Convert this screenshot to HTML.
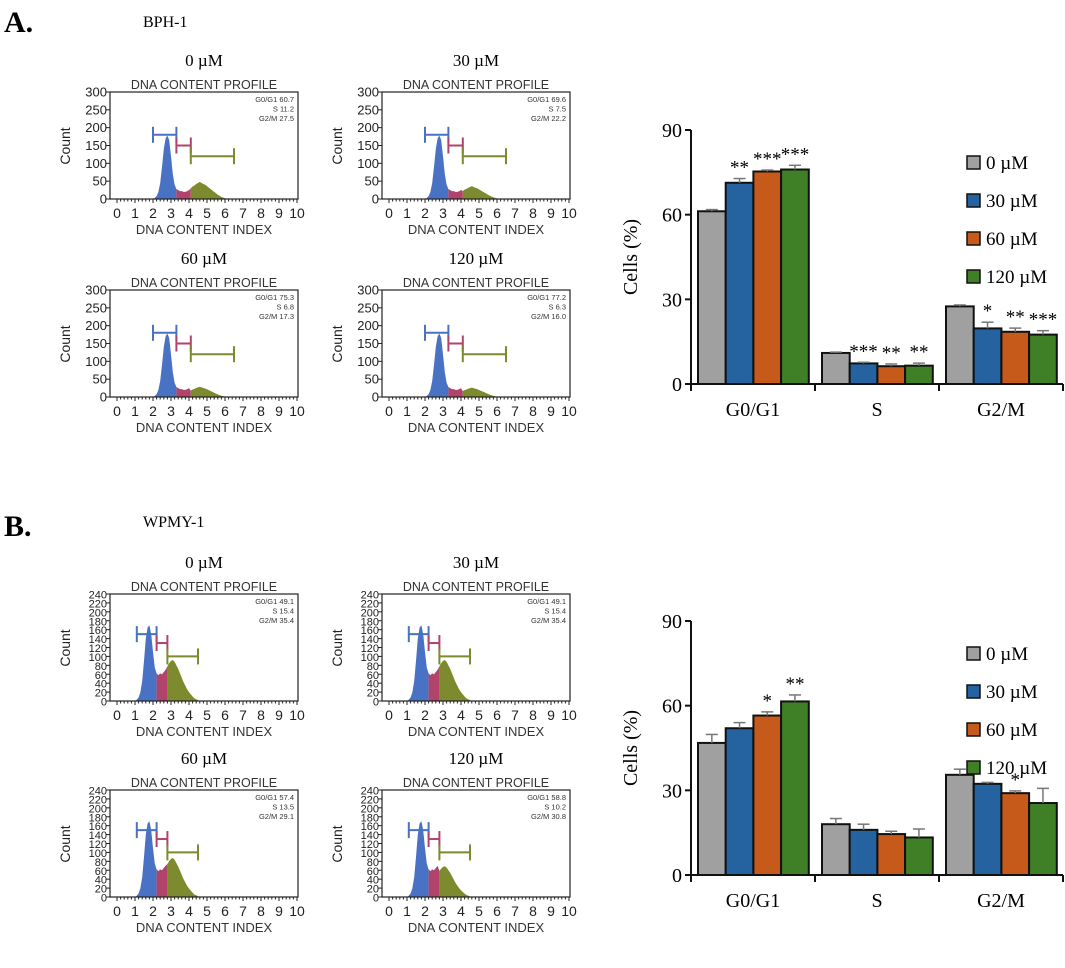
<!DOCTYPE html>
<html><head><meta charset="utf-8"><style>
body{margin:0;background:#fff;}
svg{display:block;}
.t{font-family:"Liberation Serif",serif;}
.s{font-family:"Liberation Sans",sans-serif;}
</style></head><body>
<svg id="fig" width="1065" height="968" xmlns="http://www.w3.org/2000/svg">
<text class="t" x="4" y="32" font-size="30" font-weight="bold">A.</text>
<text class="t" x="143" y="27" font-size="16">BPH-1</text>
<text class="t" x="4" y="536" font-size="30" font-weight="bold">B.</text>
<text class="t" x="143" y="527" font-size="16">WPMY-1</text>
<g id="hist"></g>
<g id="bars"></g>
</svg>
<script>
const NS="http://www.w3.org/2000/svg";
// ---- histogram data ----
const histAX=[2.0,2.1,2.2,2.3,2.4,2.5,2.6,2.7,2.8,2.9,3.0,3.1,3.2,3.3,3.4,3.5,3.6,3.7,3.8,3.9,4.0,4.1,4.2,4.3,4.4,4.5,4.6,4.7,4.8,4.9,5.0,5.1,5.2,5.3,5.4,5.5,5.6,5.7,5.8,5.9,6.0,6.1,6.2];
const histAY=[0,3,8,20,45,90,140,170,178,165,120,70,40,28,25,22,22,20,20,22,25,30,35,38,42,45,48,45,42,40,36,32,28,24,20,16,12,9,6,4,2,1,0];
const histBX=[1.0,1.1,1.2,1.3,1.4,1.5,1.6,1.7,1.8,1.9,2.0,2.1,2.2,2.3,2.4,2.5,2.6,2.7,2.8,2.9,3.0,3.1,3.2,3.3,3.4,3.5,3.6,3.7,3.8,3.9,4.0,4.1,4.2,4.3,4.4,4.5,4.6];
const histBY=[0,3,8,20,45,90,140,165,170,150,110,75,62,58,62,60,65,70,78,85,90,92,88,80,72,62,52,42,34,26,20,15,10,6,4,2,0];
const panelLabels=["0 µM","30 µM","60 µM","120 µM"];
const infoA=[["G0/G1 60.7","S 11.2","G2/M 27.5"],["G0/G1 69.6","S 7.5","G2/M 22.2"],["G0/G1 75.3","S 6.8","G2/M 17.3"],["G0/G1 77.2","S 6.3","G2/M 16.0"]];
const infoB=[["G0/G1 49.1","S 15.4","G2/M 35.4"],["G0/G1 49.1","S 15.4","G2/M 35.4"],["G0/G1 57.4","S 13.5","G2/M 29.1"],["G0/G1 58.8","S 10.2","G2/M 30.8"]];
const g2ScaleA=[1,0.75,0.6,0.55];
const g2ScaleB=[1,1,0.95,0.75];

function el(tag,attrs,parent,text){const e=document.createElementNS(NS,tag);for(const k in attrs)e.setAttribute(k,attrs[k]);if(text!==undefined)e.textContent=text;parent.appendChild(e);return e;}

function histPanel(ox,oy,cfg,idx){
  const g=el('g',{},document.getElementById('hist'));
  
  
  const W=188,H=107,sx=u=>ox+7+u*18,sy=c=>oy+H-c*H/cfg.ymax;
  const lab=el('text',{x:ox+94,y:oy-26,'text-anchor':'middle','font-size':17,class:'t'},g,panelLabels[idx]);
  
  const tt=el('text',{x:ox+94,y:oy-3,'text-anchor':'middle','font-size':12.5,class:'s',fill:'#333'},g,'DNA CONTENT PROFILE');
  
  const segs=[[cfg.b1,cfg.b2,'#4a72c4'],[cfg.b2,cfg.b3,'#b0446a'],[cfg.b3,99,'#7d8a2e']];
  segs.forEach(([a,b,col],si)=>{
    let pts=[];
    for(let i=0;i<cfg.xs.length;i++){const x=cfg.xs[i];if(x<a-1e-9||x>b+1e-9)continue;
      let c=cfg.ys[i];if(x>=cfg.b3-1e-9)c*=cfg.g2[idx];pts.push([sx(x),sy(c)]);}
    if(!pts.length)return;
    const d='M'+pts[0][0]+','+sy(0)+pts.map(p=>'L'+p[0]+','+p[1]).join('')+'L'+pts[pts.length-1][0]+','+sy(0)+'Z';
    const p=el('path',{d:d,fill:col},g);
    
  });
  cfg.br.forEach(([a,b,c,col],bi)=>{
    const bg=el('g',{stroke:col,'stroke-width':2,fill:'none'},g);
    
    el('line',{x1:sx(a),x2:sx(b),y1:sy(c),y2:sy(c)},bg);
    el('line',{x1:sx(a),x2:sx(a),y1:sy(c)-8,y2:sy(c)+8},bg);
    el('line',{x1:sx(b),x2:sx(b),y1:sy(c)-8,y2:sy(c)+8},bg);
  });
  const bx=el('rect',{x:ox,y:oy,width:W,height:H,fill:'none',stroke:'#222','stroke-width':1.2},g);
  
  for(let v=0;v<=cfg.ymax;v+=cfg.ystep){
    el('line',{x1:ox-4,x2:ox,y1:sy(v),y2:sy(v),stroke:'#222'},g);
    const t=el('text',{x:ox-3,y:sy(v)+4.5,'text-anchor':'end','font-size':cfg.yfs,class:'s',fill:'#222'},g,String(v));
    
  }
  for(let u=0;u<=10;u+=0.2){
    const major=Math.abs(u-Math.round(u))<1e-6;
    el('line',{x1:sx(u),x2:sx(u),y1:oy+H,y2:oy+H+(major?4:2.5),stroke:'#222'},g);
  }
  for(let u=0;u<=10;u++){
    const t=el('text',{x:sx(u),y:oy+H+19,'text-anchor':'middle','font-size':14,class:'s',fill:'#222'},g,String(u));
    
  }
  const xt=el('text',{x:ox+94,y:oy+H+35,'text-anchor':'middle','font-size':13,class:'s',fill:'#333'},g,'DNA CONTENT INDEX');
  
  const yt=el('text',{x:0,y:0,'text-anchor':'middle','font-size':14,class:'s',fill:'#222',transform:`translate(${ox-40},${oy+54}) rotate(-90)`},g,'Count');
  
  cfg.info[idx].forEach((s,i)=>{
    const t=el('text',{x:ox+184,y:oy+10+i*9.5,'text-anchor':'end','font-size':7.5,class:'s',fill:'#333'},g,s);
    
  });
}
const cfgA={id:'bph1',xs:histAX,ys:histAY,ymax:300,ystep:50,yfs:13,b1:2.0,b2:3.3,b3:4.1,g2:g2ScaleA,info:infoA,
  br:[[2.0,3.3,180,'#4a72c4'],[3.3,4.1,150,'#b0446a'],[4.1,6.5,120,'#7d8a2e']]};
const cfgB={id:'wpmy1',xs:histBX,ys:histBY,ymax:240,ystep:20,yfs:11,b1:1.0,b2:2.2,b3:2.8,g2:g2ScaleB,info:infoB,
  br:[[1.1,2.2,150,'#4a72c4'],[2.2,2.8,130,'#b0446a'],[2.8,4.5,100,'#7d8a2e']]};
[[110,92],[382,92],[110,290],[382,290]].forEach((o,i)=>histPanel(o[0],o[1],cfgA,i));
[[110,594],[382,594],[110,790],[382,790]].forEach((o,i)=>histPanel(o[0],o[1],cfgB,i));

// ---- bar charts ----
const categories=["G0/G1","S","G2/M"];
const seriesNames=["0 µM","30 µM","60 µM","120 µM"];
const seriesColors=["#a0a0a0","#2563a0","#c55a1a","#3f7f26"];
const yTicks=[0,30,60,90];
const barsA=[[61.2,71.3,75.3,76.0],[11.0,7.3,6.3,6.5],[27.5,19.7,18.5,17.5]];
const errA=[[0.6,1.5,0.5,1.5],[0.3,0.4,0.8,0.9],[0.5,2.2,1.3,1.4]];
const starsA=[["","**","***","***"],["","***","**","**"],["","*","**","***"]];
const barsB=[[46.8,52.0,56.5,61.5],[18.0,16.0,14.5,13.3],[35.5,32.3,29.0,25.5]];
const errB=[[3.0,2.0,1.3,2.3],[2.0,2.0,1.0,3.0],[2.0,0.5,0.8,5.2]];
const starsB=[["","","*","**"],["","","",""],["","","*",""]];

function barChart(id,y0,vals,errs,stars){
  const g=el('g',{},document.getElementById('bars'));
  
  const ax=691,H=254,ymax=90,sy=v=>y0-v*H/ymax,gw=124,bw=27.7;
  const bx=(c,s)=>ax+7+c*gw+s*bw;
  vals.forEach((grp,c)=>grp.forEach((v,s)=>{
    const r=el('rect',{x:bx(c,s),y:sy(v),width:bw,height:y0-sy(v),fill:seriesColors[s],stroke:'#111','stroke-width':2},g);
    
    const cx=bx(c,s)+bw/2,e=errs[c][s];
    const eg=el('g',{stroke:'#777','stroke-width':1.5},g);
    
    el('line',{x1:cx,x2:cx,y1:sy(v),y2:sy(v+e)},eg);
    el('line',{x1:cx-6,x2:cx+6,y1:sy(v+e),y2:sy(v+e)},eg);
    if(stars[c][s]){const t=el('text',{x:cx,y:sy(v+e)-5,'text-anchor':'middle','font-size':19,class:'t'},g,stars[c][s]);
      }
  }));
  const axg=el('g',{stroke:'#111','stroke-width':2},g);
  
  el('line',{x1:ax,x2:ax,y1:sy(90),y2:y0},axg);
  el('line',{x1:ax,x2:ax+3*gw,y1:y0,y2:y0},axg);
  for(let c=0;c<=3;c++)el('line',{x1:ax+c*gw,x2:ax+c*gw,y1:y0,y2:y0+7},axg);
  yTicks.forEach(v=>{
    el('line',{x1:ax-6,x2:ax,y1:sy(v),y2:sy(v)},axg);
    const t=el('text',{x:ax-9,y:sy(v)+7,'text-anchor':'end','font-size':20,class:'t'},g,String(v));
    
  });
  categories.forEach((c,i)=>{const t=el('text',{x:ax+i*gw+gw/2,y:y0+32,'text-anchor':'middle','font-size':20,class:'t'},g,c);
    });
  const yt=el('text',{x:0,y:0,'text-anchor':'middle','font-size':20,class:'t',transform:`translate(${ax-54},${y0-H/2}) rotate(-90)`},g,'Cells (%)');
  
  seriesNames.forEach((n,i)=>{
    const ly=sy(90)+33+i*38;
    const lg=el('g',{},g);
    
    el('rect',{x:967,y:ly-7,width:13,height:13,fill:seriesColors[i],stroke:'#111','stroke-width':1.5},lg);
    el('text',{x:986,y:ly+6,'font-size':19,class:'t'},lg,n);
  });
}
barChart('bph1',384,barsA,errA,starsA);
barChart('wpmy1',875,barsB,errB,starsB);
</script>
</body></html>
